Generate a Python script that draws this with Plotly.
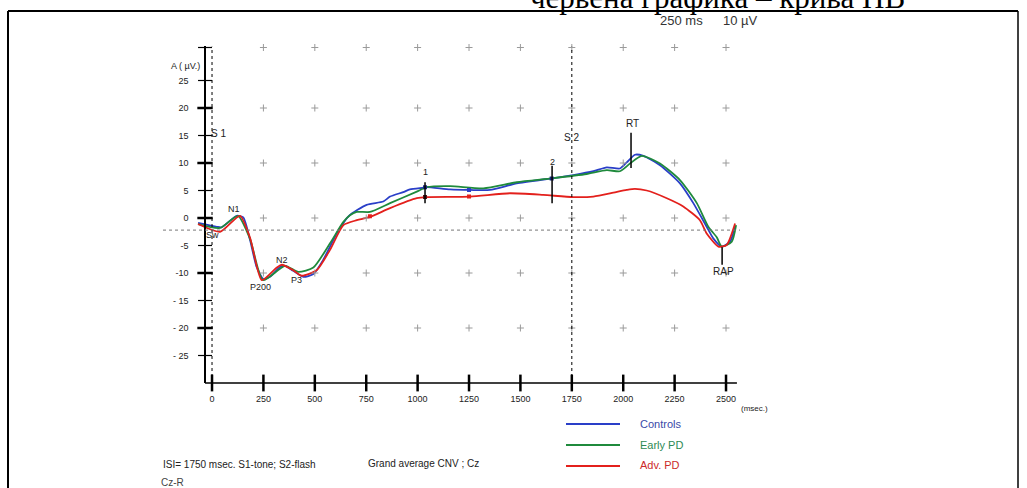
import plotly.graph_objects as go

W, H = 1027, 488

# ---------------- data (ms, µV) ----------------
controls_ms = [-68, 23, 47, 120, 152, 185, 217, 250, 282, 331, 355, 395, 444, 493, 541, 607, 666, 752, 833,
               866, 930, 963, 1028, 1044, 1158, 1255, 1352, 1482, 1652, 1757, 1855, 1920, 1984, 2017, 2057,
               2098, 2179, 2276, 2341, 2406, 2438, 2479, 2520, 2544]
controls_uv = [-0.9, -1.6, -1.7, 0.4, 0.1, -4.0, -8.9, -11.1, -10.7, -8.9, -8.7, -9.6, -10.7, -10.2, -7.6, -2.8,
               0.4, 2.4, 3.0, 3.9, 4.7, 5.2, 5.5, 5.6, 5.2, 5.1, 5.1, 6.3, 7.2, 7.8, 8.5, 9.2, 9.0, 10.1, 11.5,
               11.3, 9.6, 6.3, 2.7, -1.6, -3.7, -5.2, -4.3, -1.6]

early_ms = [-68, 39, 126, 185, 248, 355, 420, 493, 574, 639, 671, 704, 768, 866, 996, 1044, 1158, 1320, 1482,
            1652, 1822, 1920, 1984, 2033, 2090, 2179, 2276, 2358, 2414, 2455, 2479, 2528, 2549]
early_uv = [-1.1, -1.8, 0.4, -3.8, -11.3, -8.7, -9.8, -9.0, -4.6, -0.7, 0.5, 1.1, 1.1, 2.7, 4.8, 5.6, 5.8, 5.4,
            6.5, 7.2, 8.0, 8.7, 8.5, 9.9, 11.3, 9.9, 6.9, 2.7, -1.6, -3.5, -5.2, -4.3, -1.3]

adv_ms = [-68, 39, 136, 185, 242, 315, 339, 395, 436, 509, 574, 639, 704, 768, 866, 996, 1044, 1255, 1449, 1611,
          1757, 1855, 1952, 2017, 2057, 2114, 2212, 2292, 2373, 2406, 2463, 2503, 2544]
adv_uv = [-1.1, -2.5, 0.4, -3.6, -11.3, -9.0, -8.5, -9.5, -10.5, -9.5, -5.8, -1.3, -0.4, 0.2, 1.8, 3.6, 3.8, 3.9,
          4.5, 4.2, 3.8, 3.9, 4.6, 5.1, 5.3, 5.0, 3.6, 2.1, -0.4, -2.8, -5.2, -4.9, -1.0]

series_names = ["Controls", "Early PD", "Adv. PD"]
series_colors = ["#2a3fc8", "#1f8a3c", "#e3201c"]

xtick_vals = [0, 250, 500, 750, 1000, 1250, 1500, 1750, 2000, 2250, 2500]
ytick_vals = [25, 20, 15, 10, 5, 0, -5, -10, -15, -20, -25]
ytick_text = ["25", "20", "15", "10", "5", "0", "-5", "-10", "- 15", "- 20", "- 25"]
ytick_major = [20, 10, 0, -10, -20]
ytick_minor = [31, 25, 15, 5, -5, -15, -25]

grid_x = [250, 500, 750, 1000, 1250, 1500, 1750, 2000, 2250, 2500]
grid_y = [31, 20, 10, 0, -10, -20]

baseline_uv = -2.2
s1_ms, s2_ms = 0, 1750
axis_x0, axis_x1 = -34, 2553
x_range = [-253, 2568]
y_range = [-30, 31.2]

# sample-point dots on the curves
dot_ms = [1036, 1036, 1250, 1250, 1652, 768]
dot_uv = [5.6, 3.8, 5.1, 3.9, 7.2, 0.3]
dot_col = ["#1a2a80", "#5a1010", "#2a3fc8", "#e3201c", "#1a2a80", "#e3201c"]

# component markers: (ms, top µV, bottom µV)
markers = {"1": (1036, 6.5, 2.7), "2": (1654, 9.5, 2.7), "RT": (2038, 15.5, 9.1), "RAP": (2481, -5.3, -8.5)}

# component labels: text, ms, µV
labels = [("N1", 107, 1.6), ("Sw", 2, -3.1), ("N2", 339, -7.6), ("P200", 236, -12.6), ("P3", 412, -11.3),
          ("1", 1036, 8.4), ("2", 1654, 10.2), ("RT", 2045, 17.1), ("RAP", 2490, -9.8),
          ("S 1", 30, 15.3), ("S 2", 1746, 14.7), ("A ( µV.)", -131, 27.6)]


def px(x):
    return x / W


def py(y):
    return 1 - y / H


FONT = "Liberation Sans"

fig = go.Figure()

for name, xs, ys, col in zip(series_names, [controls_ms, early_ms, adv_ms], [controls_uv, early_uv, adv_uv],
                             series_colors):
    fig.add_trace(go.Scatter(x=xs, y=ys, mode="lines", name=name, line=dict(color=col, width=1.8, shape="spline",
                                                                            smoothing=0.6), showlegend=False))

# grid crosses
gx, gy = [], []
for yy in grid_y:
    for xx in grid_x:
        gx.append(xx)
        gy.append(yy)
fig.add_trace(go.Scatter(x=gx, y=gy, mode="markers", showlegend=False, hoverinfo="skip", cliponaxis=False,
                         marker=dict(symbol="cross-thin", size=5, line=dict(color="#9a9a9a", width=1))))

# dots
fig.add_trace(go.Scatter(x=dot_ms, y=dot_uv, mode="markers", showlegend=False, hoverinfo="skip",
                         marker=dict(symbol="square", size=4, color=dot_col)))

# x ticks (crossing the axis)
fig.add_trace(go.Scatter(x=xtick_vals, y=[y_range[0]] * len(xtick_vals), mode="markers", showlegend=False,
                         hoverinfo="skip", cliponaxis=False,
                         marker=dict(symbol="line-ns", size=12, line=dict(color="black", width=2.5))))
# y ticks
fig.add_trace(go.Scatter(x=[axis_x0] * len(ytick_major), y=ytick_major, mode="markers", showlegend=False,
                         hoverinfo="skip", cliponaxis=False,
                         marker=dict(symbol="line-ew", size=11, line=dict(color="black", width=2.5))))
fig.add_trace(go.Scatter(x=[axis_x0] * len(ytick_minor), y=ytick_minor, mode="markers", showlegend=False,
                         hoverinfo="skip", cliponaxis=False,
                         marker=dict(symbol="line-ew", size=10, line=dict(color="black", width=1.2))))

shapes = []
# x axis line
shapes.append(dict(type="line", xref="x", yref="paper", x0=axis_x0, x1=axis_x1, y0=py(383), y1=py(383),
                   line=dict(color="black", width=1.5)))
# S1, S2 dotted
for s in (s1_ms, s2_ms):
    shapes.append(dict(type="line", xref="x", yref="y", x0=s, x1=s, y0=y_range[0], y1=y_range[1],
                       line=dict(color="black", width=1, dash="dot")))
# baseline dotted
shapes.append(dict(type="line", xref="paper", yref="y", x0=px(163), x1=px(740), y0=baseline_uv, y1=baseline_uv,
                   line=dict(color="#777777", width=1, dash="dot")))
# component marker lines
for k, (mx, t, b) in markers.items():
    shapes.append(dict(type="line", xref="x", yref="y", x0=mx, x1=mx, y0=b, y1=t,
                       line=dict(color="black", width=1.5)))
# legend lines
for col, yy in zip(series_colors, [424, 445, 466]):
    shapes.append(dict(type="line", xref="paper", yref="paper", x0=px(566), x1=px(620), y0=py(yy), y1=py(yy),
                       line=dict(color=col, width=2)))
# frame
shapes.append(dict(type="line", xref="paper", yref="paper", x0=px(8), x1=px(1018), y0=py(11), y1=py(11),
                   line=dict(color="black", width=2)))
shapes.append(dict(type="line", xref="paper", yref="paper", x0=px(8), x1=px(8), y0=py(11), y1=py(490),
                   line=dict(color="black", width=2)))
shapes.append(dict(type="line", xref="paper", yref="paper", x0=px(1018), x1=px(1018), y0=py(11), y1=py(490),
                   line=dict(color="black", width=1.5)))

ann = []
for t, xx, yy in labels:
    ann.append(dict(text=t, x=xx, y=yy, xref="x", yref="y", showarrow=False,
                    font=dict(family=FONT, size=10 if t in ("S 1", "S 2", "RT", "RAP") else 9, color="#222")))

legend_text_colors = ["#3a4aa8", "#2e8a55", "#cc2a2a"]
for name, col, yy in zip(series_names, legend_text_colors, [424, 445, 465]):
    ann.append(dict(text=name, x=px(638), y=py(yy), xref="paper", yref="paper", xanchor="left", yanchor="middle",
                    showarrow=False, font=dict(family=FONT, size=11, color=col)))

ann.append(dict(text="(msec.)", x=px(739), y=py(408), xref="paper", yref="paper", xanchor="left",
                yanchor="middle", showarrow=False, font=dict(family=FONT, size=8, color="#222")))
ann.append(dict(text="ISI= 1750 msec. S1-tone; S2-flash", x=px(161), y=py(464), xref="paper", yref="paper",
                xanchor="left", yanchor="middle", showarrow=False, font=dict(family=FONT, size=10, color="#222")))
ann.append(dict(text="Cz-R", x=px(159), y=py(482), xref="paper", yref="paper", xanchor="left", yanchor="middle",
                showarrow=False, font=dict(family=FONT, size=10, color="#444")))
ann.append(dict(text="Grand average CNV ; Cz", x=px(366), y=py(463), xref="paper", yref="paper", xanchor="left",
                yanchor="middle", showarrow=False, font=dict(family=FONT, size=10, color="#222")))
ann.append(dict(text="250 ms", x=px(681), y=py(20), xref="paper", yref="paper", xanchor="center",
                yanchor="middle", showarrow=False, font=dict(family=FONT, size=13, color="#333")))
ann.append(dict(text="10 µV", x=px(740), y=py(20), xref="paper", yref="paper", xanchor="center",
                yanchor="middle", showarrow=False, font=dict(family=FONT, size=13, color="#333")))
ann.append(dict(text="червена графика – крива НВ", x=px(717), y=py(17), xref="paper", yref="paper",
                xanchor="center", yanchor="bottom", showarrow=False,
                font=dict(family="Liberation Serif", size=31, color="black")))

fig.update_layout(
    width=W, height=H,
    margin=dict(l=0, r=0, t=0, b=0),
    paper_bgcolor="white", plot_bgcolor="rgba(0,0,0,0)",
    showlegend=False,
    shapes=shapes,
    annotations=ann,
    xaxis=dict(domain=[px(160), px(740)], range=x_range, showline=False, showgrid=False, zeroline=False,
               ticks="", tickvals=xtick_vals, ticklabelstandoff=9,
               tickfont=dict(family=FONT, size=9, color="#222"), anchor="y"),
    yaxis=dict(domain=[py(383), py(46.4)], range=y_range, anchor="free", position=px(205), showline=True,
               linecolor="black", linewidth=1.5, showgrid=False, zeroline=False, ticks="",
               tickvals=ytick_vals, ticktext=ytick_text, ticklabelstandoff=14,
               tickfont=dict(family=FONT, size=9, color="#222")),
)

fig.write_html("out.html")
